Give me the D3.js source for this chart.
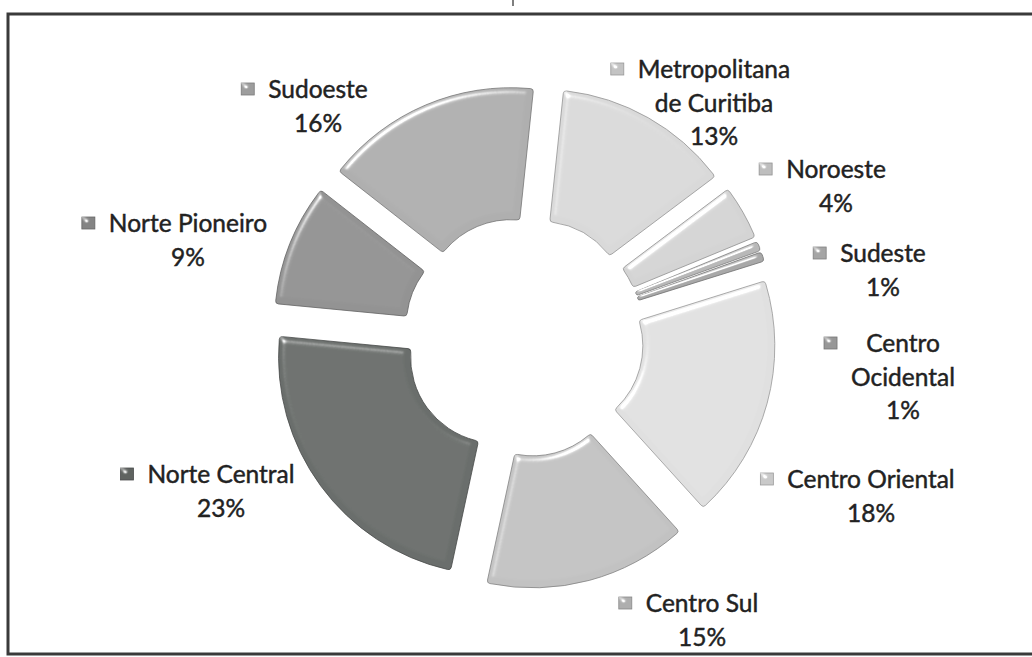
<!DOCTYPE html>
<html>
<head>
<meta charset="utf-8">
<script src="https://cdn.jsdelivr.net/npm/d3@7"></script>
<style>
  body { margin: 0; background: #fff; }
  svg { display: block; }
  .lbl { font-family: Lato, "Open Sans", sans-serif; font-size: 24.5px; fill: #222; stroke: #222; stroke-width: 0.45px; }
</style>
</head>
<body>
<div id="chart"></div>
<script>
// regions of Paraná and their share (%), clockwise from the top
var regions = ["Metropolitana de Curitiba", "Noroeste", "Sudeste", "Centro Ocidental",
               "Centro Oriental", "Centro Sul", "Norte Central", "Norte Pioneiro", "Sudoeste"];
var shares = [13, 4, 0.7, 0.7, 18, 15, 23, 9, 16];
var labelLines = [["Metropolitana", "de Curitiba"], ["Noroeste"], ["Sudeste"], ["Centro", "Ocidental"],
                  ["Centro Oriental"], ["Centro Sul"], ["Norte Central"], ["Norte Pioneiro"], ["Sudoeste"]];

var size = { width: 1032, height: 657 };
var center = { x: 524, y: 337 };
var outerR = 218, innerR = 86, explode = 34;

var shade = d3.scaleOrdinal()
  .domain(regions)
  .range(["#d9d9d9", "#d4d4d4", "#b8b8b8", "#a8a8a8", "#e0e0e0", "#c2c2c2", "#6a6e6c", "#939393", "#afafaf"]);

// where excel dropped each data label (text centre, first baseline)
var labelAt = {
  "Metropolitana de Curitiba": [714, 78],
  "Noroeste": [836, 178],
  "Sudeste": [883, 262],
  "Centro Ocidental": [903, 352],
  "Centro Oriental": [871, 488],
  "Centro Sul": [702, 612],
  "Norte Central": [221, 483],
  "Norte Pioneiro": [188, 232],
  "Sudoeste": [318, 98]
};
var lineH = 33.5;

var svg = d3.select('#chart')
            .append('svg')
            .attr('width', size.width)
            .attr('height', size.height);

// soft bevel like the office 2007 "shape effects"
var defs = svg.append('defs');
var f = defs.append('filter').attr('id', 'bevel').attr('x', '-10%').attr('y', '-10%').attr('width', '120%').attr('height', '120%');
f.append('feGaussianBlur').attr('in', 'SourceAlpha').attr('stdDeviation', 3).attr('result', 'blur');
f.append('feSpecularLighting').attr('in', 'blur').attr('surfaceScale', 4).attr('specularConstant', 0.8)
  .attr('specularExponent', 40).attr('lighting-color', '#ffffff').attr('result', 'spec')
  .append('feDistantLight').attr('azimuth', 235).attr('elevation', 40);
f.append('feComposite').attr('in', 'spec').attr('in2', 'SourceAlpha').attr('operator', 'in').attr('result', 'specIn');
f.append('feComposite').attr('in', 'SourceGraphic').attr('in2', 'specIn').attr('operator', 'arithmetic')
  .attr('k1', 0).attr('k2', 1).attr('k3', 1).attr('k4', 0);

// frame of the pasted chart
svg.append('rect')
   .attr('x', 8).attr('y', 14).attr('width', 1040).attr('height', 640)
   .attr('fill', 'none').attr('stroke', '#3a3a3a').attr('stroke-width', 3);
svg.append('line')
   .attr('x1', 513).attr('x2', 513).attr('y1', 0).attr('y2', 6)
   .attr('stroke', '#555').attr('stroke-width', 1.5);

var pie = d3.pie()
  .sort(null)
  .value(function(d){ return d; })
  .startAngle(6 * Math.PI / 180)
  .endAngle(366 * Math.PI / 180);

var arc = d3.arc()
  .innerRadius(innerR)
  .outerRadius(outerR)
  .cornerRadius(3);

var arcs = pie(shares);
var total = d3.sum(shares);

var g = svg.append('g')
           .attr('transform', 'translate(' + center.x + ',' + center.y + ')');

g.selectAll('path')
 .data(arcs)
 .enter()
 .append('path')
 .attr('d', arc)
 .attr('transform', function(d){
   var mid = (d.startAngle + d.endAngle) / 2;
   return 'translate(' + (explode * Math.sin(mid)) + ',' + (-explode * Math.cos(mid)) + ')';
 })
 .attr('fill', function(d, i){ return shade(regions[i]); })
 .attr('stroke', function(d, i){ return d3.color(shade(regions[i])).darker(1.1); })
 .attr('stroke-width', 0.8)
 .attr('filter', 'url(#bevel)');

// data labels: legend key + name + percentage
var labels = svg.selectAll('g.label')
  .data(arcs)
  .enter()
  .append('g')
  .attr('class', 'label');

labels.each(function(d, i){
  var el = d3.select(this);
  var name = regions[i];
  var pos = labelAt[name];
  var lines = labelLines[i].concat([Math.round(d.value / total * 100) + '%']);
  var t = el.append('text')
    .attr('class', 'lbl')
    .attr('text-anchor', 'middle');
  lines.forEach(function(s, k){
    t.append('tspan').attr('x', pos[0]).attr('y', pos[1] + k * lineH).text(s);
  });
  // key square sits left of the widest line, on the first line
  var bb = t.node().getBBox();
  el.append('rect')
    .attr('x', bb.x - 27).attr('y', pos[1] - 15)
    .attr('width', 13).attr('height', 12)
    .attr('fill', d3.color(shade(name)).darker(0.3))
    .attr('stroke', d3.color(shade(name)).darker(1))
    .attr('stroke-width', 0.8)
    .attr('filter', 'url(#bevel)');
});
</script>
</body>
</html>
